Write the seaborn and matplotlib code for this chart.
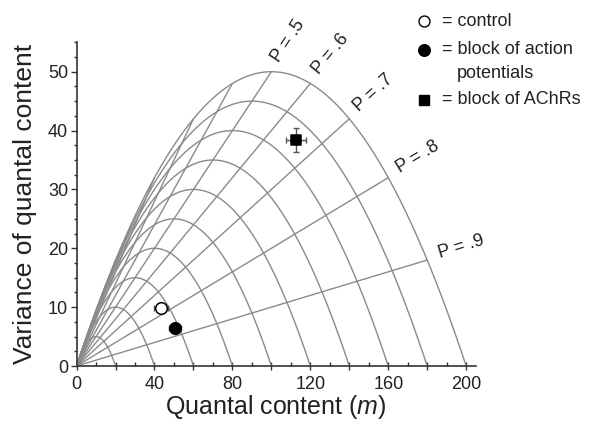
import numpy as np
import pandas as pd
import matplotlib
matplotlib.use("Agg")
import matplotlib.pyplot as plt
import seaborn as sns
from matplotlib.ticker import FixedLocator, MultipleLocator, FuncFormatter

# ---- data ----
N_values = [20, 40, 60, 80, 100, 120, 140, 160, 180, 200]   # binomial N of each parabola
P_values = [0.1, 0.2, 0.3, 0.4, 0.5, 0.6, 0.7, 0.8, 0.9]    # constant-P rays
P_labeled = [0.5, 0.6, 0.7, 0.8, 0.9]
P_texts = ["P = .5", "P = .6", "P = .7", "P = .8", "P = .9"]
groups = ["control", "block of action potentials", "block of AChRs"]
mean_m = [43.3, 50.7, 112.7]
var_m = [9.9, 6.4, 38.4]
err_m = [3.6, 3.0, 5.0]
err_var = [0.0, 0.0, 2.1]
x_ticks = [0, 40, 80, 120, 160, 200]
y_ticks = [0, 10, 20, 30, 40, 50]
N_max = max(N_values)

sns.set_style("ticks")
plt.rcParams["font.family"] = ["Liberation Sans", "DejaVu Sans"]
plt.rcParams["mathtext.fontset"] = "custom"
plt.rcParams["mathtext.it"] = "Liberation Sans:italic"
plt.rcParams["mathtext.rm"] = "Liberation Sans"

fig = plt.figure(figsize=(5.89, 4.21), dpi=100)
ax = fig.add_axes([0.130, 0.1306, 0.678, 0.769])

grid_col = "#8a8a8a"

# parabolas: variance = m (1 - m/N)
rows = []
for N in N_values:
    m = np.linspace(0, N, 300)
    rows.append(pd.DataFrame({"m": m, "v": m * (1 - m / N), "curve": N}))
curves = pd.concat(rows, ignore_index=True)
sns.lineplot(data=curves, x="m", y="v", units="curve", estimator=None, sort=False,
             color=grid_col, lw=1.0, ax=ax, legend=False)

# constant-P rays: variance = m (1 - P), from origin to outer parabola
rows = []
for p in P_values:
    m = np.array([0.0, N_max * p])
    rows.append(pd.DataFrame({"m": m, "v": m * (1 - p), "ray": p}))
rays = pd.concat(rows, ignore_index=True)
sns.lineplot(data=rays, x="m", y="v", units="ray", estimator=None, sort=False,
             color=grid_col, lw=1.0, ax=ax, legend=False)

ax.set_xlim(0, 205)
ax.set_ylim(0, 55)

# data points with error bars
ax.errorbar(mean_m, var_m, xerr=err_m, yerr=err_var, fmt="none",
            ecolor="#555555", elinewidth=1.0, capsize=2, capthick=1.0, zorder=4)
pts = pd.DataFrame({"m": mean_m, "v": var_m, "group": groups})
styles = {
    "control": dict(marker="o", s=70, facecolor="white"),
    "block of action potentials": dict(marker="o", s=70, facecolor="black"),
    "block of AChRs": dict(marker="s", s=55, facecolor="black"),
}
for g in groups:
    st = styles[g]
    sns.scatterplot(data=pts[pts.group == g], x="m", y="v", marker=st["marker"],
                    s=st["s"], color=st["facecolor"], edgecolor="black",
                    linewidth=1.1, ax=ax, zorder=5, legend=False)

# P labels along each labelled ray
for p, txt in zip(P_labeled, P_texts):
    end = np.array([N_max * p, N_max * p * (1 - p)])
    d0 = ax.transData.transform((0, 0))
    d1 = ax.transData.transform(end)
    ang = np.degrees(np.arctan2(d1[1] - d0[1], d1[0] - d0[0]))
    off = 9.5
    ax.annotate(txt, xy=end, xytext=(off * np.cos(np.radians(ang)), off * np.sin(np.radians(ang)) - 1.5),
                textcoords="offset points", rotation=ang, rotation_mode="anchor",
                ha="left", va="baseline", fontsize=13, color="#222222",
                annotation_clip=False)

# axes styling
for s in ["top", "right"]:
    ax.spines[s].set_visible(False)
for s in ["left", "bottom"]:
    ax.spines[s].set_color("#333333")
    ax.spines[s].set_linewidth(1.2)

ax.xaxis.set_major_locator(FixedLocator(list(range(0, 201, 20))))
ax.xaxis.set_major_formatter(FuncFormatter(lambda v, _: f"{int(v)}" if int(v) in x_ticks else ""))
ax.xaxis.set_minor_locator(FixedLocator(list(range(10, 201, 20))))
ax.yaxis.set_major_locator(FixedLocator(y_ticks))
ax.yaxis.set_minor_locator(MultipleLocator(2.5))
ax.tick_params(axis="x", which="major", direction="inout", length=6, width=1.0,
               color="#333333", labelsize=13, labelcolor="#222222", pad=4)
ax.tick_params(axis="x", which="minor", direction="in", length=3, width=1.0, color="#333333")
ax.tick_params(axis="y", which="major", direction="out", length=4, width=1.0,
               color="#333333", labelsize=13, labelcolor="#222222", pad=2)
ax.tick_params(axis="y", which="minor", direction="out", length=2.5, width=1.0, color="#333333")

ax.set_xlabel("Quantal content ($m$)", fontsize=18, color="#222222", labelpad=0)
ax.set_ylabel("Variance of quantal content", fontsize=19, color="#222222", labelpad=8)

# legend drawn as markers + text in figure coordinates
leg_marker_x = 424 / 589
leg_text_x = 442 / 589
leg_rows = [
    ("o", "white", 1 - 21 / 421, "= control", 62),
    ("o", "black", 1 - 50 / 421, "= block of action", 70),
    ("s", "black", 1 - 100 / 421, "= block of AChRs", 48),
]
for mk, fc, y, txt, sz in leg_rows:
    fig.add_artist(plt.Line2D([leg_marker_x], [y], marker=mk, markersize=np.sqrt(sz),
                              markerfacecolor=fc, markeredgecolor="black",
                              markeredgewidth=1.0, linestyle="none",
                              transform=fig.transFigure))
    fig.text(leg_text_x, y, txt, fontsize=13, va="center", ha="left", color="#222222")
fig.text(457 / 589, 1 - 73 / 421, "potentials", fontsize=13, va="center", ha="left", color="#222222")

fig.savefig("out.png", dpi=100)
